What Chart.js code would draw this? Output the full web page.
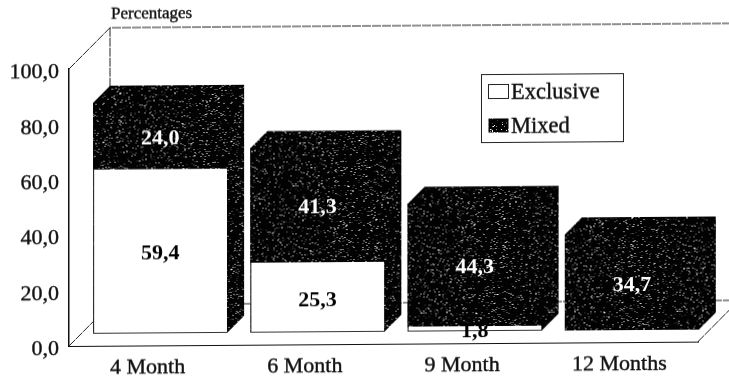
<!DOCTYPE html>
<html>
<head>
<meta charset="utf-8">
<title>Exclusive and mixed percentages</title>
<style>
    html, body { margin: 0; padding: 0; background: #fff; overflow: hidden; }
    /* the whole sheet runs very slightly uphill to the right */
    #chart { display: block; transform-origin: 69px 346px; transform: skewY(-0.4deg); }
</style>
</head>
<body>
<canvas id="chart" width="729" height="378"></canvas>
<script src="https://cdn.jsdelivr.net/npm/chart.js@4/dist/chart.umd.min.js"></script>
<script>
const categories = ['4 Month', '6 Month', '9 Month', '12 Months']
const exclusive = [59.4, 25.3, 1.8, 0]
const mixed = [24.0, 41.3, 44.3, 34.7]
const yTicks = [0, 20, 40, 60, 80, 100]

const serif = '"Liberation Serif", "Times New Roman", serif'
const ink = '#111'

// the bars stand a little way into the box, the box itself goes deeper
const BAR_SHIFT = { x: 12.5, y: -12 }
const BAR_DEPTH = 17
const BOX_DEPTH = 41

const comma = v => v.toFixed(1).replace('.', ',')

// black tile with sparse white specks, fixed hash so every run looks the same
function speckle() {
    const size = 128
    const tile = document.createElement('canvas')
    tile.width = tile.height = size
    const c = tile.getContext('2d')
    c.fillStyle = '#020202'
    c.fillRect(0, 0, size, size)
    for (let y = 0; y < size; y++) {
        for (let x = 0; x < size; x++) {
            let h = Math.imul(x + 1, 73856093) ^ Math.imul(y + 1, 19349663)
            h = Math.imul(h ^ (h >>> 13), 1274126177)
            h = ((h ^ (h >>> 16)) >>> 0) % 1000
            if (h < 85) {
                c.fillStyle = h < 30 ? '#fff' : h < 60 ? '#999' : '#484848'
                c.fillRect(x, y, 1, 1)
            }
        }
    }
    return c.createPattern(tile, 'repeat')
}

const dots = speckle()

// open box behind the bars: back wall edges and the left side
const boxPlugin = {
    id: 'box',
    beforeDatasetsDraw(chart) {
        const { ctx, chartArea: a } = chart
        ctx.save()
        ctx.strokeStyle = '#222'
        ctx.lineWidth = 1
        ctx.setLineDash([9, 1])
        ctx.beginPath()
        ctx.moveTo(a.left, a.top)
        ctx.lineTo(a.left + BOX_DEPTH, a.top - BOX_DEPTH)
        ctx.lineTo(chart.width, a.top - BOX_DEPTH)
        ctx.moveTo(a.left + BOX_DEPTH, a.top - BOX_DEPTH)
        ctx.lineTo(a.left + BOX_DEPTH, a.bottom - BOX_DEPTH)
        ctx.lineTo(chart.width, a.bottom - BOX_DEPTH)
        ctx.moveTo(a.left, a.bottom)
        ctx.lineTo(a.left + BOX_DEPTH, a.bottom - BOX_DEPTH)
        ctx.moveTo(a.right, a.bottom)
        ctx.lineTo(a.right + BOX_DEPTH, a.bottom - BOX_DEPTH)
        ctx.stroke()
        ctx.restore()
    }
}

// whole silhouette of each stack, then the shift that applies to the bars
const depthPlugin = {
    id: 'depth',
    beforeDatasetsDraw(chart) {
        const { ctx } = chart
        const low = chart.getDatasetMeta(0).data
        const high = chart.getDatasetMeta(1).data
        ctx.save()
        ctx.translate(BAR_SHIFT.x, BAR_SHIFT.y)
        ctx.fillStyle = dots
        high.forEach((bar, i) => {
            const left = bar.x - bar.width / 2
            const right = bar.x + bar.width / 2
            const bottom = low[i].base
            ctx.beginPath()
            ctx.moveTo(left, bar.y)
            ctx.lineTo(left + BAR_DEPTH, bar.y - BAR_DEPTH)
            ctx.lineTo(right + BAR_DEPTH, bar.y - BAR_DEPTH)
            ctx.lineTo(right + BAR_DEPTH, bottom - BAR_DEPTH)
            ctx.lineTo(right, bottom)
            ctx.lineTo(left, bottom)
            ctx.closePath()
            ctx.fill()
        })
    },
    afterDatasetsDraw(chart) {
        chart.ctx.restore()
    }
}

// value in the middle of each segment, never above its own segment's top
const valuePlugin = {
    id: 'values',
    afterDatasetsDraw(chart) {
        const { ctx } = chart
        ctx.save()
        ctx.font = 'bold 22px ' + serif
        ctx.textAlign = 'center'
        ctx.textBaseline = 'middle'
        chart.data.datasets.forEach((set, d) => {
            chart.getDatasetMeta(d).data.forEach((bar, i) => {
                if (!set.data[i]) return
                const x = bar.x + BAR_SHIFT.x
                const top = bar.y + BAR_SHIFT.y
                const mid = (bar.y + bar.base) / 2 + BAR_SHIFT.y
                ctx.save()
                ctx.beginPath()
                ctx.rect(x - bar.width / 2, top, bar.width, chart.height - top)
                ctx.clip()
                ctx.fillStyle = set.valueColor
                ctx.fillText(comma(set.data[i]), x, mid + 3)
                ctx.restore()
            })
        })
        ctx.restore()
    }
}

// boxed legend and the small heading over the axis
const notesPlugin = {
    id: 'notes',
    afterDraw(chart) {
        const { ctx, chartArea: a } = chart
        ctx.save()
        ctx.fillStyle = ink
        ctx.strokeStyle = ink
        ctx.lineWidth = 0.4
        ctx.textBaseline = 'middle'
        ctx.textAlign = 'left'
        ctx.font = '17px ' + serif
        ctx.fillText('Percentages', a.left + 42, 14.5)
        ctx.strokeText('Percentages', a.left + 42, 14.5)

        ctx.fillStyle = '#fff'
        ctx.strokeStyle = '#222'
        ctx.lineWidth = 1
        ctx.fillRect(481.5, 77.5, 142, 68)
        ctx.strokeRect(481.5, 77.5, 142, 68)

        chart.data.datasets.forEach((set, i) => {
            const y = 95 + i * 34
            ctx.fillStyle = set.backgroundColor
            ctx.fillRect(488.5, y - 7.5, 20, 14)
            ctx.strokeStyle = '#222'
            ctx.lineWidth = 1
            if (i === 0) ctx.strokeRect(488.5, y - 7.5, 20, 14)
            ctx.fillStyle = ink
            ctx.strokeStyle = ink
            ctx.lineWidth = 0.4
            ctx.font = '22.5px ' + serif
            ctx.fillText(set.label, 511, y + 1)
            ctx.strokeText(set.label, 511, y + 1)
        })
        ctx.restore()
    }
}

const data = {
    labels: categories,
    datasets: [
        {
            label: 'Exclusive',
            data: exclusive,
            backgroundColor: '#fff',
            borderColor: '#333',
            borderWidth: { left: 1, bottom: 1, top: 0, right: 0 },
            borderSkipped: false,
            valueColor: '#000',
            clip: false
        },
        {
            label: 'Mixed',
            data: mixed,
            backgroundColor: dots,
            borderWidth: 0,
            valueColor: '#fff',
            clip: false
        }
    ]
}

const options = {
    responsive: false,
    animation: false,
    events: [],
    categoryPercentage: 1,
    barPercentage: 0.852,
    layout: { padding: { top: 69, right: 31, bottom: 0, left: 0 } },
    plugins: {
        legend: { display: false },
        tooltip: { enabled: false }
    },
    scales: {
        x: {
            stacked: true,
            afterFit(scale) { scale.height = 32 },
            grid: { display: false, drawTicks: false },
            border: { display: true, color: ink, width: 1 },
            ticks: {
                color: ink,
                padding: 9,
                maxRotation: 0,
                textStrokeColor: ink,
                textStrokeWidth: 0.4,
                font: { family: serif, size: 22 }
            }
        },
        y: {
            stacked: true,
            min: 0,
            max: 100,
            afterFit(scale) { scale.width = 69 },
            afterBuildTicks(scale) { scale.ticks = yTicks.map(value => ({ value })) },
            grid: { display: false, drawTicks: false },
            border: { display: true, color: ink, width: 1.5 },
            ticks: {
                color: ink,
                padding: 10,
                labelOffset: 3.5,
                textStrokeColor: ink,
                textStrokeWidth: 0.4,
                callback: comma,
                font: { family: serif, size: 22 }
            }
        }
    }
}

new Chart('chart', {
    type: 'bar',
    data,
    options,
    plugins: [boxPlugin, depthPlugin, valuePlugin, notesPlugin]
})
</script>
</body>
</html>
